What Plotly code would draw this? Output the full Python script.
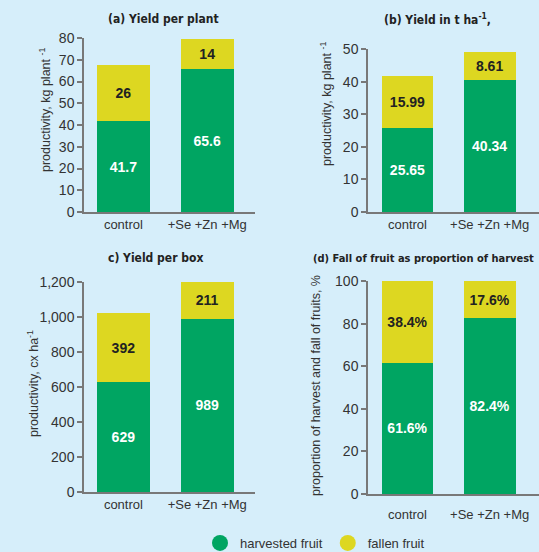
import plotly.graph_objects as go

categories = ["control", "+Se +Zn +Mg"]

# (a) Yield per plant, kg plant-1
a_harvested = [41.7, 65.6]
a_fallen = [26, 14]
# (b) Yield in t ha-1
b_harvested = [25.65, 40.34]
b_fallen = [15.99, 8.61]
# (c) Yield per box, cx ha-1
c_harvested = [629, 989]
c_fallen = [392, 211]
# (d) proportion of harvest, %
d_harvested = [61.6, 82.4]
d_fallen = [38.4, 17.6]

a_h_text = ["41.7", "65.6"]
a_f_text = ["26", "14"]
b_h_text = ["25.65", "40.34"]
b_f_text = ["15.99", "8.61"]
c_h_text = ["629", "989"]
c_f_text = ["392", "211"]
d_h_text = ["61.6%", "82.4%"]
d_f_text = ["38.4%", "17.6%"]

GREEN = "rgb(0,165,98)"
YELLOW = "rgb(221,215,33)"
BG = "rgb(214,238,250)"
AXIS = "rgb(120,120,120)"
TXT = "rgb(51,51,51)"
BASEFONT = "Liberation Sans, Arial, sans-serif"
NARROW = "DejaVu Sans Condensed, sans-serif"

fig = go.Figure()

panels = [
    ("x", "y", a_harvested, a_fallen, a_h_text, a_f_text),
    ("x2", "y2", b_harvested, b_fallen, b_h_text, b_f_text),
    ("x3", "y3", c_harvested, c_fallen, c_h_text, c_f_text),
    ("x4", "y4", d_harvested, d_fallen, d_h_text, d_f_text),
]

for xa, ya, h, f, ht, ft in panels:
    fig.add_trace(go.Bar(
        x=categories, y=h, xaxis=xa, yaxis=ya, marker_color=GREEN,
        marker_line_width=0, width=0.63, text=ht, textposition="inside",
        insidetextanchor="middle", textangle=0,
        textfont=dict(color="white", size=14, family=BASEFONT, weight="bold"),
        showlegend=False, hoverinfo="skip"))
    fig.add_trace(go.Bar(
        x=categories, y=f, xaxis=xa, yaxis=ya, marker_color=YELLOW,
        marker_line_width=0, width=0.63, text=ft, textposition="inside",
        insidetextanchor="middle", textangle=0,
        textfont=dict(color="rgb(34,34,34)", size=14, family=BASEFONT, weight="bold"),
        showlegend=False, hoverinfo="skip"))

# legend entries (circle symbols)
fig.add_trace(go.Scatter(x=[None], y=[None], xaxis="x", yaxis="y", mode="markers",
                         marker=dict(color=GREEN, size=16, symbol="circle"),
                         name="harvested fruit"))
fig.add_trace(go.Scatter(x=[None], y=[None], xaxis="x", yaxis="y", mode="markers",
                         marker=dict(color=YELLOW, size=16, symbol="circle"),
                         name="fallen fruit"))

W, H = 539, 552
def px_x(p):
    return p / W
def px_y(p):
    return 1 - p / H

left_dom = [px_x(84), px_x(255)]
right_dom = [px_x(368), 1.0]

xcommon = dict(showline=True, linecolor=AXIS, linewidth=1.5, ticks="",
               showgrid=False, zeroline=False, range=[-0.47, 1.57],
               tickfont=dict(size=13, color=TXT, family=BASEFONT), fixedrange=True)
ycommon = dict(showline=True, linecolor=AXIS, linewidth=1.5, ticks="outside",
               ticklen=5, tickcolor=AXIS, tickwidth=1.5, showgrid=False,
               zeroline=False, tickfont=dict(size=14, color=TXT, family=BASEFONT),
               fixedrange=True)

fig.update_layout(
    width=W, height=H, barmode="stack", bargap=0.3,
    paper_bgcolor=BG, plot_bgcolor=BG,
    margin=dict(l=0, r=0, t=0, b=0, autoexpand=False),
    font=dict(family=BASEFONT, color=TXT),
    xaxis=dict(xcommon, domain=left_dom, anchor="y"),
    yaxis=dict(ycommon, domain=[px_y(212), px_y(38)], range=[0, 80], dtick=10, anchor="x"),
    xaxis2=dict(xcommon, domain=right_dom, anchor="y2", range=[-0.48, 1.6]),
    yaxis2=dict(ycommon, domain=[px_y(212), px_y(49)], range=[0, 50], dtick=10, anchor="x2"),
    xaxis3=dict(xcommon, domain=left_dom, anchor="y3"),
    yaxis3=dict(ycommon, domain=[px_y(492), px_y(282)], range=[0, 1200], dtick=200,
                tickformat=",", anchor="x3"),
    xaxis4=dict(xcommon, domain=right_dom, anchor="y4", range=[-0.48, 1.6],
                ticklabelstandoff=8),
    yaxis4=dict(ycommon, domain=[px_y(494), px_y(281)], range=[0, 100], dtick=20, anchor="x4"),
    legend=dict(orientation="h", x=px_x(200), xanchor="left", y=px_y(543), yanchor="middle",
                traceorder="normal",
                bgcolor="rgba(0,0,0,0)", font=dict(size=13, color=TXT, family=BASEFONT),
                itemsizing="trace"),
)

titles = [
    ("(a) Yield per plant", 163, 19, 12),
    ("(b) Yield in t ha<sup>-1</sup>,", 437, 19, 12),
    ("c) Yield per box", 155, 258, 12),
    ("(d) Fall of fruit as proportion of harvest", 424, 258, 11),
]
for t, x, y, s in titles:
    fig.add_annotation(text=t, x=px_x(x), y=px_y(y), xref="paper", yref="paper",
                       showarrow=False, xanchor="center", yanchor="middle",
                       font=dict(size=s, color="rgb(34,34,34)", family=NARROW, weight="bold"))

ytitles = [
    ("productivity, kg plant <sup>-1</sup>", 45, 110),
    ("productivity, kg plant <sup>-1</sup>", 326, 104),
    ("productivity, cx ha<sup>-1</sup>", 33, 384),
    ("proportion of harvest and fall of fruits, %", 316, 386),
]
for t, x, y in ytitles:
    fig.add_annotation(text=t, x=px_x(x), y=px_y(y), xref="paper", yref="paper",
                       showarrow=False, xanchor="center", yanchor="middle", textangle=-90,
                       font=dict(size=12.5, color=TXT, family=BASEFONT))

fig.write_html("out.html", config={"displayModeBar": False},
               post_script="document.body.style.margin='0';document.body.style.background='rgb(214,238,250)';")
